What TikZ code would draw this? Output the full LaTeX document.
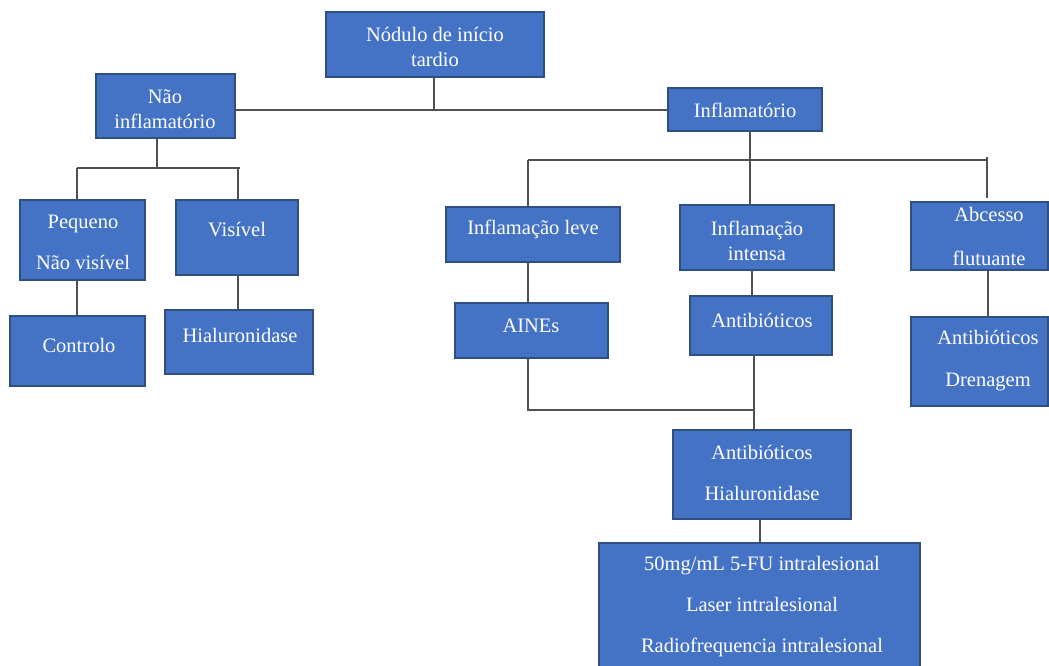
\documentclass[tikz,border=0pt]{standalone}
\usepackage{fontspec}
\setmainfont{Liberation Serif}
\definecolor{boxfill}{HTML}{4472C4}
\definecolor{boxline}{HTML}{2F4F80}
\definecolor{conn}{HTML}{505050}
\begin{document}
\begin{tikzpicture}[x=1pt,y=-1pt,
  box/.style={draw=boxline, line width=1.6pt, fill=boxfill, rectangle, inner sep=0pt},
  txt/.style={text=white, font=\fontsize{20.5}{25}\selectfont, align=center, inner sep=0pt},
  conn/.style={draw=conn, line width=1.1pt}]
\clip (0,0) rectangle (1049,666);
\useasboundingbox (0,0) rectangle (1049,666);
\fill[white] (0,0) rectangle (1049,666);
% helper: box from corners
\newcommand{\bx}[5]{\node[box, minimum width={#4-#2}, minimum height={#5-#3}] (#1) at ({(#2+#4)/2},{(#3+#5)/2}) {};}
\bx{nod}{326}{12}{544}{77}
\bx{nao}{96}{74}{235}{138}
\bx{inf}{668}{88}{822}{131}
\bx{peq}{20}{200}{145}{280}
\bx{vis}{176}{200}{298}{275}
\bx{con}{10}{316}{145}{386}
\bx{hia}{165}{310}{313}{374}
\bx{lev}{446}{207}{620}{262}
\bx{ain}{455}{303}{608}{358}
\bx{int}{680}{205}{834}{270}
\bx{ant}{690}{296}{832}{355}
\bx{abc}{911}{202}{1048}{270}
\bx{dre}{911}{317}{1048}{406}
\bx{ah}{673}{430}{851}{519}
\bx{fu}{599}{543}{920}{700}
% texts
\node[txt] (nodT) at (435,47) {Nódulo de início\\tardio};
\node[txt] (naoT) at (165,109) {Não\\inflamatório};
\node[txt] (infT) at (745,110) {Inflamatório};
\node[txt] (peqT) at (83,242) {Pequeno\\[16pt]Não visível};
\node[txt] (visT) at (237,230) {Visível};
\node[txt] (conT) at (79,345) {Controlo};
\node[txt] (hiaT) at (240,335) {Hialuronidase};
\node[txt] (levT) at (533,229) {Inflamação leve};
\node[txt] (ainT) at (531,326) {AINEs};
\node[txt] (intT) at (757,241) {Inflamação\\intensa};
\node[txt] (antT) at (762,320) {Antibióticos};
\node[txt] (abcT) at (989,236) {Abcesso\\[19pt]flutuante};
\node[txt] (dreT) at (988,361) {Antibióticos\\[17pt]Drenagem};
\node[txt] (ahT) at (762,473) {Antibióticos\\[16pt]Hialuronidase};
\node[txt] (fuT) at (762,607) {50mg/mL 5-FU intralesional\\[16pt]Laser intralesional\\[16pt]Radiofrequencia intralesional};
% connectors
\coordinate (j0) at (434,110);
\draw[conn] (nao.east |- j0) -- (inf.west |- j0);
\draw[conn] (nod.south -| j0) -- (j0);
% left branch
\coordinate (jl) at (157,168);
\draw[conn] (nao.south -| jl) -- (jl);
\coordinate (jl1) at (77,168);
\coordinate (jl2) at (240,168);
\draw[conn] (jl1) -- (jl2);
\draw[conn] (jl1) -- (peq.north -| jl1);
\draw[conn] (238,168) -- (vis.north -| 238,0);
\draw[conn] (peq.south -| jl1) -- (con.north -| jl1);
\draw[conn] (vis.south -| 238,0) -- (hia.north -| 238,0);
% right branch
\coordinate (jr) at (750,160);
\coordinate (jr1) at (528,160);
\coordinate (jr2) at (987,160);
\draw[conn] (inf.south -| jr) -- (int.north -| jr);
\draw[conn] (jr1) -- (jr2);
\draw[conn] (jr1) -- (lev.north -| jr1);
\draw[conn] (987,157) -- (987,198);
\draw[conn] (lev.south -| jr1) -- (ain.north -| jr1);
\draw[conn] (752,270) -- (752,296);
\draw[conn] (abc.south -| 988,0) -- (dre.north -| 988,0);
\coordinate (jm) at (754,410);
\draw[conn] (ain.south -| jr1) -- (jr1 |- jm) -- (jm);
\draw[conn] (ant.south -| jm) -- (ah.north -| jm);
\draw[conn] (ah.south -| 760,0) -- (fu.north -| 760,0);
\end{tikzpicture}
\end{document}
